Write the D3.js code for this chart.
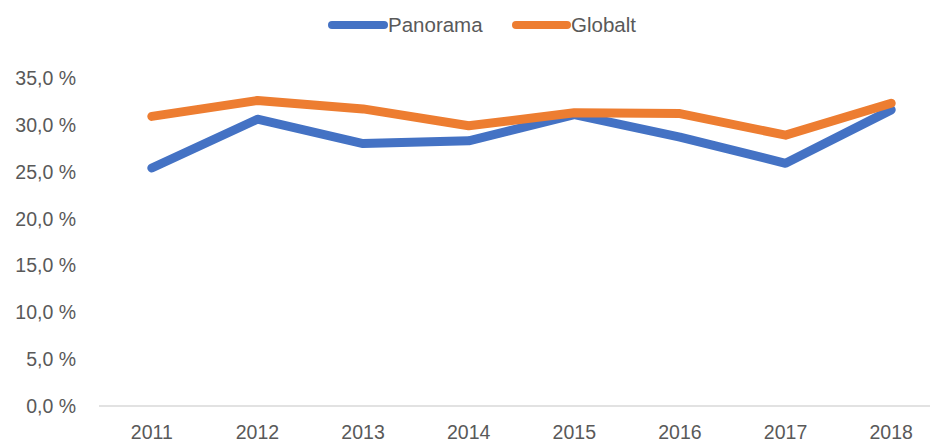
<!DOCTYPE html>
<html><head><meta charset="utf-8">
<script src="https://cdn.jsdelivr.net/npm/d3@7"></script>
<style>body{margin:0;background:#fff;} svg{display:block;font-family:"Liberation Sans",Arial,sans-serif;}</style>
</head><body>
<svg id="chart" width="930" height="444"></svg>
<script>
const years = ["2011","2012","2013","2014","2015","2016","2017","2018"];
const panorama = [25.4, 30.6, 28.0, 28.3, 31.1, 28.7, 25.9, 31.6];
const globalt = [30.9, 32.6, 31.7, 29.9, 31.3, 31.2, 28.9, 32.3];
const yTicks = [0, 5, 10, 15, 20, 25, 30, 35];
const seriesNames = ["Panorama", "Globalt"];
const colors = ["#4472C4", "#ED7D31"];

const svg = d3.select("#chart");
const x = d3.scaleBand().domain(years).range([99, 944]);
const y = d3.scaleLinear().domain([0, 35]).range([406, 78]);
const fmt = v => v.toFixed(1).replace(".", ",") + " %";

// y labels
svg.append("g").selectAll("text").data(yTicks).join("text")
  .attr("x", 76).attr("y", d => y(d)).attr("dy", "0.36em")
  .attr("text-anchor", "end").attr("fill", "#595959").attr("font-size", "19.5px")
  .text(fmt);

// x axis line
svg.append("line").attr("x1", 99).attr("x2", 944).attr("y1", y(0)).attr("y2", y(0))
  .attr("stroke", "#D9D9D9").attr("stroke-width", 1.3);

svg.append("g").selectAll("text").data(years).join("text")
  .attr("x", d => x(d) + x.bandwidth() / 2).attr("y", 439)
  .attr("text-anchor", "middle").attr("fill", "#595959").attr("font-size", "19.5px")
  .text(d => d);

const line = d3.line().x((d, i) => x(years[i]) + x.bandwidth() / 2).y(d => y(d));
[panorama, globalt].forEach((s, k) => {
  svg.append("path").datum(s).attr("d", line).attr("fill", "none")
    .attr("stroke", colors[k]).attr("stroke-width", 9)
    .attr("stroke-linecap", "round").attr("stroke-linejoin", "round");
});

// legend
const leg = [{x1: 332, x2: 384, tx: 388}, {x1: 516, x2: 567, tx: 571}];
seriesNames.forEach((n, k) => {
  svg.append("line").attr("x1", leg[k].x1).attr("x2", leg[k].x2).attr("y1", 25).attr("y2", 25)
    .attr("stroke", colors[k]).attr("stroke-width", 8).attr("stroke-linecap", "round");
  svg.append("text").attr("x", leg[k].tx).attr("y", 25).attr("dy", "0.36em")
    .attr("fill", "#595959").attr("font-size", "20.5px").text(n);
});
</script>
</body></html>
